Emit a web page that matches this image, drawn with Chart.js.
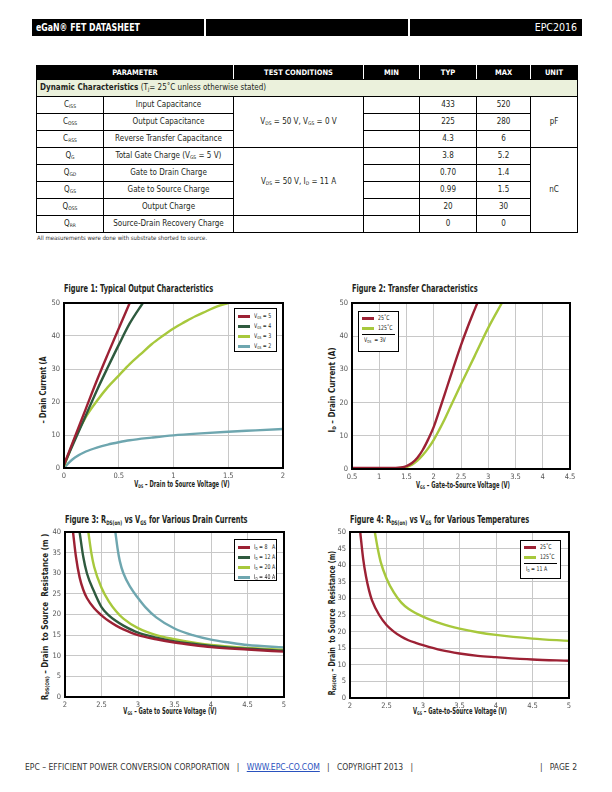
<!DOCTYPE html>
<html>
<head>
<meta charset="utf-8">
<script src="https://cdn.jsdelivr.net/npm/chart.js@4.4.1/dist/chart.umd.min.js"></script>
<style>
  html, body { margin: 0; padding: 0; background: #fff; }
  body {
    width: 612px; height: 792px; position: relative; overflow: hidden;
    font-family: "Liberation Sans Narrow", "DejaVu Sans Condensed", "Arial Narrow", sans-serif;
    color: #231f20;
  }
  .abs { position: absolute; white-space: nowrap; }
  .bar { position: absolute; top: 19px; height: 17px; background: #000; }
  .bar-text { position: absolute; top: 19px; height: 17px; line-height: 17px; color: #fff; font-size: 10.5px; white-space: nowrap; }
  sub { font-size: 62%; vertical-align: baseline; position: relative; top: 0.25em; }
  table.spec {
    position: absolute; left: 36px; top: 65px; width: 541px;
    border-collapse: collapse; table-layout: fixed; font-size: 8px;
  }
  table.spec td, table.spec th { padding: 0; text-align: center; border: 1px solid #000; height: 16px; line-height: 10px; }
  table.spec th {
    background: #000; color: #fff; font-size: 7.5px; height: 13px;
    border-left: 1px solid #fff; border-right: 1px solid #fff; border-top: 1px solid #000; border-bottom: 1px solid #000;
  }
  table.spec th:first-child { border-left: 1px solid #000; }
  table.spec th:last-child { border-right: 1px solid #000; }
  table.spec td.group { text-align: left; padding-left: 3px; background: #ebf1dc; }
  .note { left: 37px; top: 234px; font-size: 6px; color: #333; }
  .ftitle { font-weight: bold; font-size: 10px; transform-origin: 0 50%; transform: scaleX(0.74); }
  .xtitle { font-weight: bold; font-size: 8px; transform: translateX(-50%) scaleX(0.72); }
  .ytitle { font-weight: bold; font-size: 8px; }
  .legend { position: absolute; background: #fff; border: 1px solid #000; font-size: 6.5px; box-sizing: border-box; }
  .lrow { position: relative; height: 10px; line-height: 10px; }
  .lsw { position: absolute; top: 4px; width: 12px; height: 3px; }
  .ltx { position: absolute; white-space: nowrap; transform-origin: 0 50%; transform: scaleX(0.8); }
  .lsep { border-top: 1px solid #000; margin: 1px 3px 0 3px; }
  .footer { top: 762px; font-size: 8.5px; color: #333; }
  .footer a { color: #2a52be; text-decoration: underline; }
</style>
</head>
<body>

<div class="bar" style="left:32px;width:172px"></div>
<div class="bar" style="left:206px;width:202px"></div>
<div class="bar" style="left:410px;width:172px"></div>
<div class="bar-text" style="left:36px;font-weight:bold;transform-origin:0 50%;transform:scaleX(0.83)">eGaN® FET DATASHEET</div>
<div class="bar-text" style="right:35px">EPC2016</div>

<table class="spec" id="spec">
  <colgroup>
    <col style="width:67px"><col style="width:130px"><col style="width:130px">
    <col style="width:56px"><col style="width:57px"><col style="width:54px"><col style="width:47px">
  </colgroup>
  <thead>
    <tr><th colspan="2">PARAMETER</th><th>TEST CONDITIONS</th><th>MIN</th><th>TYP</th><th>MAX</th><th>UNIT</th></tr>
  </thead>
  <tbody id="specBody">
    <tr><td class="group" colspan="7"><b>Dynamic Characteristics</b> (T<sub>J</sub>= 25˚C unless otherwise stated)</td></tr>
  </tbody>
</table>
<div class="abs note">All measurements were done with substrate shorted to source.</div>

<div class="abs ftitle" style="left:64px;top:283px">Figure 1: Typical Output Characteristics</div>
<div class="abs ftitle" style="left:352px;top:283px">Figure 2: Transfer Characteristics</div>
<div class="abs ftitle" style="left:65px;top:514px">Figure 3: R<sub>DS(on)</sub> vs V<sub>GS</sub> for Various Drain Currents</div>
<div class="abs ftitle" style="left:350px;top:514px">Figure 4: R<sub>DS(on)</sub> vs V<sub>GS</sub> for Various Temperatures</div>

<div class="abs xtitle" style="left:182px;top:480px">V<sub>DS</sub> – Drain to Source Voltage (V)</div>
<div class="abs xtitle" style="left:463px;top:481px">V<sub>GS</sub> – Gate-to-Source Voltage (V)</div>
<div class="abs xtitle" style="left:170px;top:707px">V<sub>GS</sub> – Gate to Source Voltage (V)</div>
<div class="abs xtitle" style="left:460px;top:707px">V<sub>GS</sub> – Gate-to-Source Voltage (V)</div>

<div class="abs ytitle" style="left:43px;top:390px;transform:translate(-50%,-50%) rotate(-90deg) scaleX(0.92)">– Drain Current (A</div>
<div class="abs ytitle" style="left:332px;top:390px;transform:translate(-50%,-50%) rotate(-90deg)">I<sub>D</sub> – Drain Current (A)</div>
<div class="abs ytitle" style="left:45px;top:617px;transform:translate(-50%,-50%) rotate(-90deg)">R<sub>DS(ON)</sub> – Drain&nbsp; to Source&nbsp; Resistance (m )</div>
<div class="abs ytitle" style="left:332px;top:623px;transform:translate(-50%,-50%) rotate(-90deg) scaleX(0.88)">R<sub>DS(ON)</sub> – Drain&nbsp; to Source&nbsp; Resistance (m)</div>

<div class="abs footer" style="left:25px">EPC – EFFICIENT POWER CONVERSION CORPORATION&nbsp;&nbsp; | &nbsp;&nbsp;<a>WWW.EPC-CO.COM</a>&nbsp;&nbsp; | &nbsp;&nbsp;COPYRIGHT 2013&nbsp;&nbsp; |</div>
<div class="abs footer" style="right:35px">|&nbsp;&nbsp; PAGE 2</div>

<script>
  "use strict";

  // ---- table values ----
  const specSymbols = ["C<sub>ISS</sub>", "C<sub>OSS</sub>", "C<sub>RSS</sub>", "Q<sub>G</sub>", "Q<sub>GD</sub>", "Q<sub>GS</sub>", "Q<sub>OSS</sub>", "Q<sub>RR</sub>"];
  const specNames = ["Input Capacitance", "Output Capacitance", "Reverse Transfer Capacitance",
    "Total Gate Charge (V<sub>GS</sub> = 5 V)", "Gate to Drain Charge", "Gate to Source Charge", "Output Charge", "Source-Drain Recovery Charge"];
  const specTyp = ["433", "225", "4.3", "3.8", "0.70", "0.99", "20", "0"];
  const specMax = ["520", "280", "6", "5.2", "1.4", "1.5", "30", "0"];

  // ---- Figure 1: output characteristics ----
  const outVds5 = [0, 0.1, 0.2, 0.3, 0.4, 0.5, 0.6];
  const outId5 = [1, 9.5, 18, 26.5, 34.5, 42.3, 50];
  const outVds4 = [0, 0.1, 0.2, 0.3, 0.4, 0.5, 0.6, 0.72];
  const outId4 = [1, 8.5, 16, 23.5, 30.5, 37.3, 43.8, 50];
  const outVds3 = [0, 0.1, 0.2, 0.3, 0.4, 0.5, 0.6, 0.7, 0.8, 0.9, 1.0, 1.1, 1.2, 1.3, 1.4, 1.5];
  const outId3 = [0.5, 9, 15.5, 20.3, 24.5, 28, 31.5, 34.5, 37.5, 40, 42.3, 44.2, 46, 47.5, 49, 50];
  const outVds2 = [0, 0.05, 0.1, 0.2, 0.3, 0.4, 0.5, 0.6, 0.8, 1.0, 1.25, 1.5, 1.75, 2.0];
  const outId2 = [0, 1.8, 3.2, 5, 6.2, 7.1, 7.8, 8.4, 9.2, 9.9, 10.5, 11, 11.4, 11.8];
  const outLabels = ["V<sub>GS</sub> = 5", "V<sub>GS</sub> = 4", "V<sub>GS</sub> = 3", "V<sub>GS</sub> = 2"];
  const outXTicks = [0, 0.5, 1, 1.5, 2];
  const outYTicks = [0, 10, 20, 30, 40, 50];

  // ---- Figure 2: transfer characteristics ----
  const trVgs25 = [0.5, 1.0, 1.3, 1.4, 1.5, 1.6, 1.7, 1.8, 1.9, 2.0, 2.1, 2.2, 2.3, 2.4, 2.5, 2.6, 2.7, 2.8];
  const trId25 = [0.3, 0.3, 0.35, 0.5, 0.9, 1.8, 3.4, 5.8, 9, 12.7, 17.5, 22.5, 27.5, 32.5, 37.3, 41.8, 46, 50];
  const trVgs125 = [0.5, 1.0, 1.4, 1.5, 1.6, 1.7, 1.8, 1.9, 2.0, 2.1, 2.2, 2.3, 2.5, 2.75, 3.0, 3.25];
  const trId125 = [0.2, 0.2, 0.3, 0.6, 1.3, 2.5, 4.2, 6.3, 8.8, 11.8, 15, 18.5, 25.5, 34, 42.5, 50];
  const trLabels = ["25˚C", "125˚C"];
  const trNote = "V<sub>DS</sub>&nbsp; = 3V";
  const trXTicks = [0.5, 1, 1.5, 2, 2.5, 3, 3.5, 4, 4.5];
  const trYTicks = [0, 10, 20, 30, 40, 50];

  // ---- Figure 3: RDS(on) vs VGS, drain currents ----
  const rdVgs8 = [2.11, 2.15, 2.2, 2.25, 2.3, 2.4, 2.5, 2.6, 2.7, 2.8, 3.0, 3.25, 3.5, 3.75, 4.0, 4.5, 5.0];
  const rdR8 = [40, 34, 29, 26, 24, 21.5, 19.8, 18.4, 17.3, 16.4, 15.0, 14, 13.2, 12.6, 12.1, 11.5, 11.0];
  const rdVgs12 = [2.2, 2.25, 2.3, 2.4, 2.5, 2.6, 2.7, 2.8, 3.0, 3.25, 3.5, 3.75, 4.0, 4.5, 5.0];
  const rdR12 = [40, 34, 30, 25.5, 21.8, 19.8, 18.4, 17.3, 15.6, 14.4, 13.5, 12.9, 12.4, 11.7, 11.2];
  const rdVgs20 = [2.32, 2.36, 2.4, 2.5, 2.6, 2.7, 2.8, 3.0, 3.25, 3.5, 3.75, 4.0, 4.5, 5.0];
  const rdR20 = [40, 35, 31.5, 26.5, 23.2, 20.8, 19.0, 16.7, 15.0, 14.0, 13.2, 12.6, 11.9, 11.4];
  const rdVgs40 = [2.69, 2.72, 2.75, 2.8, 2.9, 3.0, 3.1, 3.25, 3.5, 3.75, 4.0, 4.25, 4.5, 5.0];
  const rdR40 = [40, 36, 33, 30, 26.5, 24, 21.8, 19.3, 16.6, 15.0, 13.9, 13.2, 12.6, 12.0];
  const rdLabels = ["I<sub>D</sub> = 8&nbsp;&nbsp; A", "I<sub>D</sub> = 12 A", "I<sub>D</sub> = 20 A", "I<sub>D</sub> = 40 A"];
  const rdXTicks = [2, 2.5, 3, 3.5, 4, 4.5, 5];
  const rdYTicks = [0, 5, 10, 15, 20, 25, 30, 35, 40];

  // ---- Figure 4: RDS(on) vs VGS, temperatures ----
  const rtVgs25 = [2.14, 2.18, 2.22, 2.26, 2.3, 2.4, 2.5, 2.6, 2.7, 2.8, 2.9, 3.0, 3.25, 3.5, 3.75, 4.0, 4.5, 5.0];
  const rtR25 = [50, 42, 36.5, 32.5, 29.5, 25, 22, 20, 18.5, 17.4, 16.6, 15.9, 14.4, 13.4, 12.7, 12.3, 11.6, 11.2];
  const rtVgs125 = [2.34, 2.38, 2.42, 2.5, 2.6, 2.7, 2.8, 3.0, 3.25, 3.5, 3.75, 4.0, 4.5, 5.0];
  const rtR125 = [50, 45, 41, 36, 31.8, 28.8, 26.9, 24.5, 22.4, 20.9, 19.8, 19.0, 17.9, 17.2];
  const rtLabels = ["25˚C", "125˚C"];
  const rtNote = "I<sub>D</sub> = 11 A";
  const rtXTicks = [2, 2.5, 3, 3.5, 4, 4.5, 5];
  const rtYTicks = [0, 5, 10, 15, 20, 25, 30, 35, 40, 45, 50];

  const RED = "#9c2134";
  const DKGREEN = "#2e5a3e";
  const LIME = "#a7c83c";
  const TEAL = "#6ea6af";
  const FONT = '"Liberation Sans Narrow", "DejaVu Sans Condensed", "Arial Narrow", sans-serif';

  // table body
  const body = document.getElementById("specBody");
  specSymbols.forEach((sym, i) => {
    const tr = document.createElement("tr");
    let html = `<td>${sym}</td><td>${specNames[i]}</td>`;
    if (i === 0) html += `<td rowspan="3">V<sub>DS</sub> = 50 V, V<sub>GS</sub> = 0 V</td>`;
    if (i === 3) html += `<td rowspan="4">V<sub>DS</sub> = 50 V, I<sub>D</sub> = 11 A</td>`;
    if (i === 7) html += `<td></td>`;
    html += `<td></td><td>${specTyp[i]}</td><td>${specMax[i]}</td>`;
    if (i === 0) html += `<td rowspan="3">pF</td>`;
    if (i === 3) html += `<td rowspan="5">nC</td>`;
    tr.innerHTML = html;
    body.appendChild(tr);
  });

  const framePlugin = {
    id: "frame",
    afterDatasetsDraw(chart) {
      const { ctx, chartArea: a } = chart;
      ctx.save();
      ctx.strokeStyle = "#000";
      ctx.lineWidth = 2;
      ctx.strokeRect(a.left, a.top, a.right - a.left, a.bottom - a.top);
      ctx.restore();
    }
  };

  const zeroPad = (s) => { s.paddingLeft = 0; s.paddingRight = 0; s.paddingTop = 0; s.paddingBottom = 0; };

  const makeChart = (plot, cfg) => {
    const [L, T, R, B] = plot;
    const padL = 28, padT = 6, padR = 8, padB = 16;
    const canvas = document.createElement("canvas");
    const w = R - L + padL + padR;
    const h = B - T + padT + padB;
    canvas.width = w; canvas.height = h;
    canvas.style.cssText = `position:absolute;left:${L - padL}px;top:${T - padT}px;width:${w}px;height:${h}px`;
    document.body.appendChild(canvas);

    const tickFont = { family: FONT, size: 7.5 };
    new Chart(canvas, {
      type: "line",
      data: {
        datasets: cfg.series.map((s) => ({
          data: s.x.map((x, i) => ({ x, y: s.y[i] })),
          borderColor: s.color,
          borderWidth: 2.4,
          pointRadius: 0,
          cubicInterpolationMode: "monotone",
          fill: false
        }))
      },
      options: {
        responsive: false,
        animation: false,
        layout: { padding: { left: 0, top: padT, right: padR, bottom: 0 } },
        plugins: { legend: { display: false }, tooltip: { enabled: false } },
        scales: {
          x: {
            type: "linear",
            min: cfg.xTicks[0], max: cfg.xTicks[cfg.xTicks.length - 1],
            afterBuildTicks: (s) => { s.ticks = cfg.xTicks.map((v) => ({ value: v })); },
            afterFit: (s) => { s.height = padB; zeroPad(s); },
            grid: { color: "#c8c8c8", lineWidth: 1, drawTicks: false },
            border: { display: false },
            ticks: { padding: 4, color: "#555", font: tickFont, maxRotation: 0, autoSkip: false, callback: (v) => String(v) }
          },
          y: {
            type: "linear",
            min: cfg.yTicks[0], max: cfg.yTicks[cfg.yTicks.length - 1],
            afterBuildTicks: (s) => { s.ticks = cfg.yTicks.map((v) => ({ value: v })); },
            afterFit: (s) => { s.width = padL; zeroPad(s); },
            grid: { color: "#c8c8c8", lineWidth: 1, drawTicks: false },
            border: { display: false },
            ticks: { padding: 4, color: "#555", font: tickFont, autoSkip: false, callback: (v) => String(v) }
          }
        }
      },
      plugins: [framePlugin]
    });
  };

  const makeLegend = (box, labels, colors, note) => {
    const [x, y, w, h] = box;
    const div = document.createElement("div");
    div.className = "legend";
    div.style.cssText = `left:${x}px;top:${y}px;width:${w}px;height:${h}px;padding-top:${note ? 1 : 2}px`;
    let html = "";
    labels.forEach((lab, i) => {
      html += `<div class="lrow"><span class="lsw" style="left:3px;background:${colors[i]}"></span><span class="ltx" style="left:19px">${lab}</span></div>`;
    });
    if (note) html += `<div class="lsep"></div><div class="lrow"><span class="ltx" style="left:5px">${note}</span></div>`;
    div.innerHTML = html;
    document.body.appendChild(div);
  };

  makeChart([64, 303, 283, 468], {
    xTicks: outXTicks, yTicks: outYTicks,
    series: [
      { x: outVds5, y: outId5, color: RED },
      { x: outVds4, y: outId4, color: DKGREEN },
      { x: outVds3, y: outId3, color: LIME },
      { x: outVds2, y: outId2, color: TEAL }
    ]
  });
  makeLegend([234, 308, 43, 44], outLabels, [RED, DKGREEN, LIME, TEAL]);

  makeChart([352, 303, 570, 469], {
    xTicks: trXTicks, yTicks: trYTicks,
    series: [
      { x: trVgs25, y: trId25, color: RED },
      { x: trVgs125, y: trId125, color: LIME }
    ]
  });
  makeLegend([358, 311, 41, 41], trLabels, [RED, LIME], trNote);

  makeChart([65, 532, 284, 697], {
    xTicks: rdXTicks, yTicks: rdYTicks,
    series: [
      { x: rdVgs8, y: rdR8, color: RED },
      { x: rdVgs12, y: rdR12, color: DKGREEN },
      { x: rdVgs20, y: rdR20, color: LIME },
      { x: rdVgs40, y: rdR40, color: TEAL }
    ]
  });
  makeLegend([234, 539, 43, 42], rdLabels, [RED, DKGREEN, LIME, TEAL]);

  makeChart([350, 532, 569, 698], {
    xTicks: rtXTicks, yTicks: rtYTicks,
    series: [
      { x: rtVgs25, y: rtR25, color: RED },
      { x: rtVgs125, y: rtR125, color: LIME }
    ]
  });
  makeLegend([520, 540, 41, 39], rtLabels, [RED, LIME], rtNote);
</script>
</body>
</html>
